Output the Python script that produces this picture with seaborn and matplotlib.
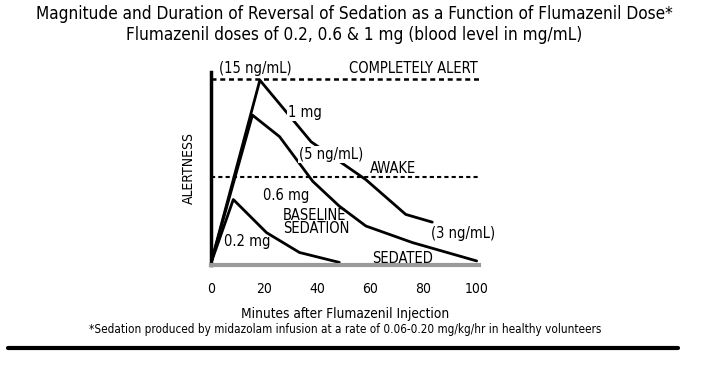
import pandas as pd
import seaborn as sns
import matplotlib.pyplot as plt

# Alertness curves (minutes, alertness on a 0-100 scale)
min_1mg = [0, 18.4, 37.7, 58.3, 73.3, 83.3]
alert_1mg = [0, 99.5, 66, 45.4, 26.5, 22.3]

min_06mg = [0, 15.6, 25.8, 38.3, 48.3, 58.3, 75.8, 100]
alert_06mg = [0, 80.5, 68.8, 44.5, 31, 20.2, 11.2, 1.2]

min_02mg = [0, 8.4, 20.9, 33.3, 48.3]
alert_02mg = [0, 34.6, 16.6, 5.8, 0.4]

completely_alert = 100
awake = 47
x_ticks = [0, 20, 40, 60, 80, 100]

df = pd.concat([
    pd.DataFrame({'Minutes': min_1mg, 'Alertness': alert_1mg, 'Dose': '1 mg'}),
    pd.DataFrame({'Minutes': min_06mg, 'Alertness': alert_06mg, 'Dose': '0.6 mg'}),
    pd.DataFrame({'Minutes': min_02mg, 'Alertness': alert_02mg, 'Dose': '0.2 mg'}),
])

sns.set_style('white')
plt.rcParams['font.family'] = ['DejaVu Sans']
plt.rcParams['font.stretch'] = 'condensed'
plt.rcParams['text.color'] = 'black'
plt.rcParams['axes.labelcolor'] = 'black'
plt.rcParams['xtick.color'] = 'black'

fig = plt.figure(figsize=(7.08, 3.65), dpi=100)
ax = fig.add_axes([0.298, 0.274, 0.379, 0.529])

sns.lineplot(data=df, x='Minutes', y='Alertness', units='Dose', estimator=None,
             sort=False, color='black', linewidth=2, ax=ax, zorder=2)

ax.axhline(completely_alert, color='black', linestyle=(0, (2, 1.5)), linewidth=1.8, zorder=1)
ax.axhline(awake, color='black', linestyle=(0, (2, 1.5)), linewidth=1.5, zorder=1)

ax.set_xlim(0, 101)
ax.set_ylim(-1, 104)
ax.set_xticks(x_ticks)
ax.set_xticks([20, 60], minor=True)
ax.tick_params(axis='x', which='major', length=0, labelsize=10, pad=12)
ax.tick_params(axis='x', which='minor', length=5, width=2, color='black', direction='out')
ax.set_yticks([])
ax.set_xlabel('Minutes after Flumazenil Injection', fontsize=9.8, labelpad=8)
ax.set_ylabel('ALERTNESS', fontsize=10, labelpad=11)

for s in ['top', 'right']:
    ax.spines[s].set_visible(False)
ax.spines['left'].set_linewidth(2.5)
ax.spines['left'].set_color('black')
ax.spines['bottom'].set_linewidth(3)
ax.spines['bottom'].set_color('#9a9a9a')

# labels on the chart
box = dict(facecolor='white', edgecolor='none', pad=0.5)
ax.text(3, 106, '(15 ng/mL)', fontsize=10.5, va='center', ha='left')
ax.text(52, 106, 'COMPLETELY ALERT', fontsize=10.5, va='center', ha='left')
ax.text(29, 82, '1 mg', fontsize=10.5, va='center', ha='left', bbox=box)
ax.text(33, 59, '(5 ng/mL)', fontsize=10.5, va='center', ha='left', bbox=box)
ax.text(60, 51.5, 'AWAKE', fontsize=10.5, va='center', ha='left')
ax.text(19.5, 37, '0.6 mg', fontsize=10.5, va='center', ha='left')
ax.text(27, 22.5, 'BASELINE\nSEDATION', fontsize=10.5, va='center', ha='left', linespacing=0.85)
ax.text(5, 12, '0.2 mg', fontsize=10.5, va='center', ha='left')
ax.text(83, 16, '(3 ng/mL)', fontsize=10.5, va='center', ha='left')
ax.text(60.5, 2.5, 'SEDATED', fontsize=10.5, va='center', ha='left')

fig.text(0.5, 0.963, 'Magnitude and Duration of Reversal of Sedation as a Function of Flumazenil Dose*',
         ha='center', va='center', fontsize=12.3)
fig.text(0.5, 0.903, 'Flumazenil doses of 0.2, 0.6 & 1 mg (blood level in mg/mL)',
         ha='center', va='center', fontsize=12.3)
fig.text(0.487, 0.096,
         '*Sedation produced by midazolam infusion at a rate of 0.06-0.20 mg/kg/hr in healthy volunteers',
         ha='center', va='center', fontsize=8.4)
fig.add_artist(plt.Line2D([0.011, 0.958], [0.047, 0.047], color='black', linewidth=3))

fig.savefig('out.png', dpi=100)
